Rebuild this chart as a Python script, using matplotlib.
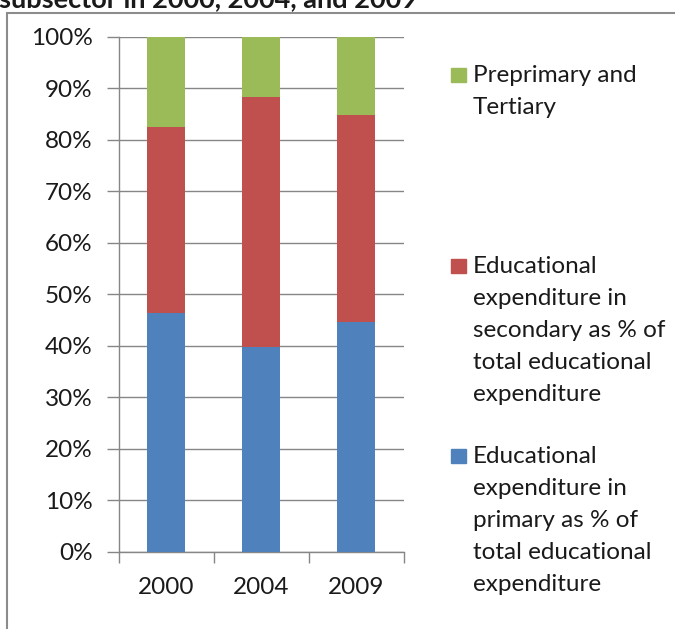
import matplotlib.pyplot as plt
from matplotlib.patches import Rectangle
from matplotlib.ticker import PercentFormatter

plt.rcParams['font.family'] = ['Lato', 'DejaVu Sans']

years = ['2000', '2004', '2009']
primary = [46.4, 39.8, 44.6]
secondary = [36.1, 48.5, 40.1]
preprimary_tertiary = [17.5, 11.7, 15.3]

labels = [
    ['Preprimary and', 'Tertiary'],
    ['Educational', 'expenditure in', 'secondary as % of', 'total educational', 'expenditure'],
    ['Educational', 'expenditure in', 'primary as % of', 'total educational', 'expenditure'],
]
colors = ['#9BBB59', '#C0504D', '#4F81BD']

W, H = 675, 629
fig = plt.figure(figsize=(W / 100, H / 100), dpi=100)

# chart frame, runs off the right and bottom edges
fig.patches.append(Rectangle((7 / W, -0.1), 1.2, 1.1 - 13 / H, transform=fig.transFigure,
                             fill=False, edgecolor='#8c8c8c', linewidth=1.5))

fig.text(-0.002, 1 - 7 / H, 'subsector in 2000, 2004, and 2009', fontsize=19.5,
         fontweight='bold', color='#1a1a1a', va='baseline', ha='left')

ax = fig.add_axes([119 / W, 1 - 551.7 / H, 285 / W, 515 / H])

x = range(len(years))
bottom2 = [p for p in primary]
bottom3 = [p + s for p, s in zip(primary, secondary)]
ax.bar(x, primary, width=0.4, color=colors[2], zorder=3)
ax.bar(x, secondary, width=0.4, bottom=bottom2, color=colors[1], zorder=3)
ax.bar(x, preprimary_tertiary, width=0.4, bottom=bottom3, color=colors[0], zorder=3)

ax.set_xlim(-0.5, 2.5)
ax.set_ylim(0, 100)
ax.set_yticks(range(0, 101, 10))
ax.yaxis.set_major_formatter(PercentFormatter(decimals=0))
ax.set_xticks(x)
ax.set_xticklabels(years)
ax.set_xticks([-0.5, 0.5, 1.5, 2.5], minor=True)
ax.tick_params(axis='x', which='major', length=0, pad=18)
ax.tick_params(axis='x', which='minor', length=8, width=1, color='#868686')
ax.tick_params(axis='y', length=9, width=1, color='#868686', pad=10)
ax.tick_params(labelsize=17.5, labelcolor='#1a1a1a')

ax.grid(axis='y', color='#868686', linewidth=1, zorder=0)
for side in ['top', 'right']:
    ax.spines[side].set_visible(False)
for side in ['left', 'bottom']:
    ax.spines[side].set_color('#868686')
    ax.spines[side].set_linewidth(1)

# legend entries stacked down the right side, one text per line (32 px apart)
baselines = [82, 273, 463]
for lines, col, base in zip(labels, colors, baselines):
    fig.patches.append(Rectangle((451 / W, 1 - base / H), 15 / W, 14 / H,
                                 transform=fig.transFigure, color=col))
    for i, line in enumerate(lines):
        fig.text(473 / W, 1 - (base + 32 * i) / H, line, fontsize=17.5, color='#1a1a1a',
                 va='baseline', ha='left')

fig.savefig('out.png', dpi=100)
